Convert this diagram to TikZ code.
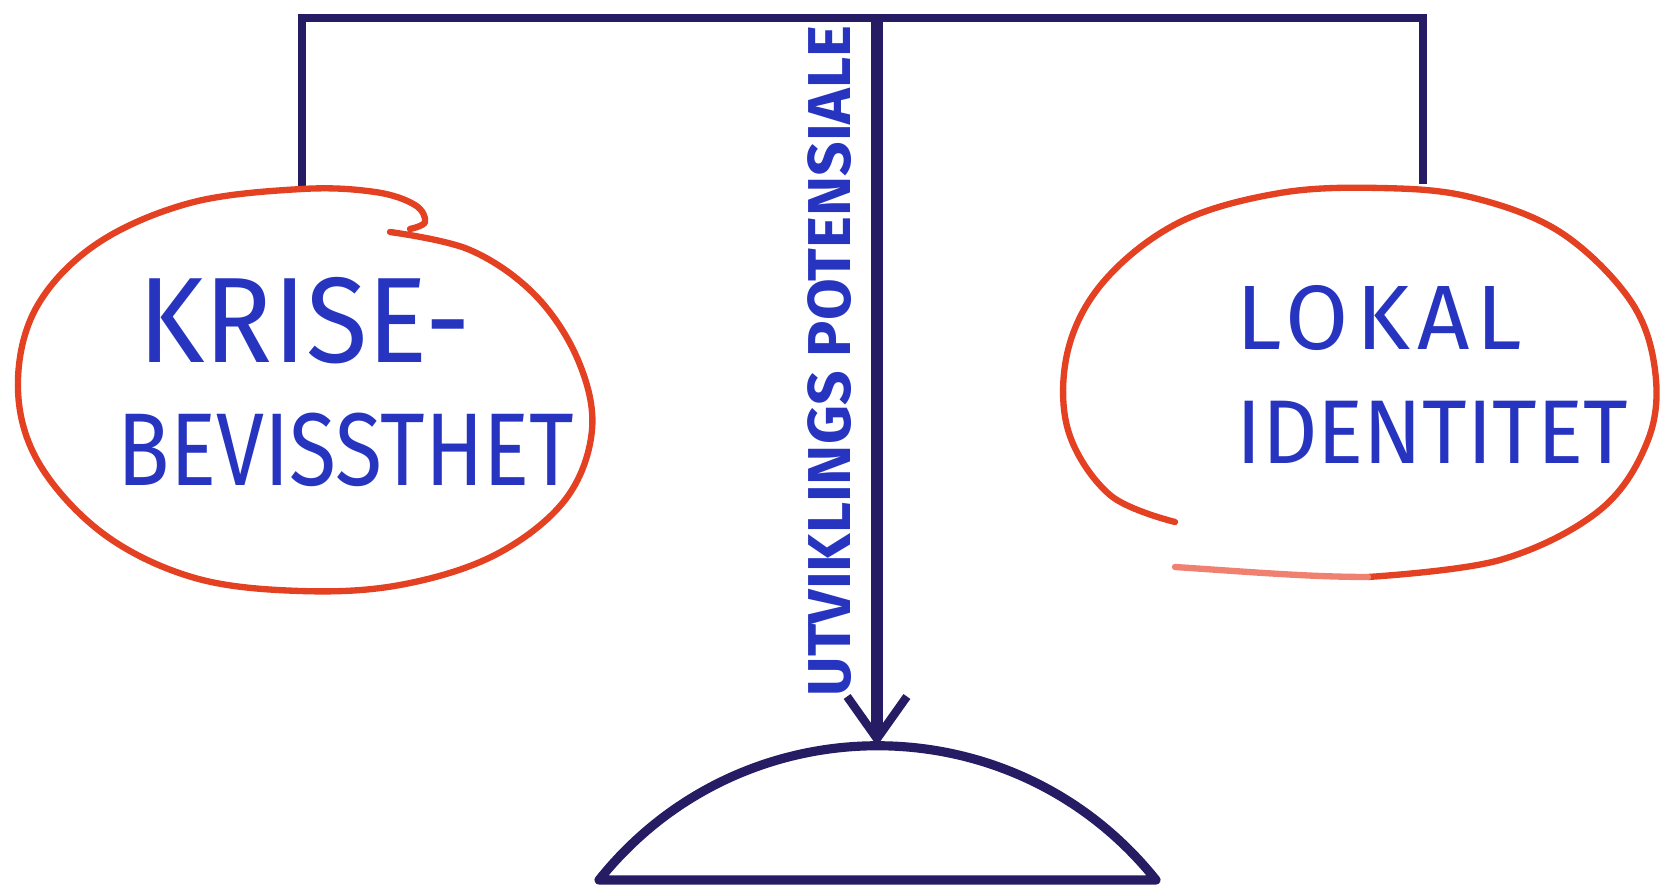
\documentclass[tikz,border=0pt]{standalone}
\usepackage{fontspec}
\setmainfont{Fira Sans}
\usetikzlibrary{arrows.meta}
\definecolor{beamnavy}{RGB}{38, 28, 100}
\definecolor{ringred}{RGB}{228, 64, 34}
\definecolor{ringpink}{RGB}{240, 128, 112}
\definecolor{inkblue}{RGB}{38, 52, 192}

\newcommand{\tallword}[2][1.2]{\scalebox{1}[#1]{#2}}

\begin{document}
\begin{tikzpicture}[x=0.01cm, y=-0.01cm,
    beam/.style={draw=beamnavy, line width=2pt, line join=miter},
    mast/.style={draw=beamnavy, line width=3.4pt,
                 -{Straight Barb[length=12pt, width=17pt, line width=2.4pt]}},
    ring/.style={draw=ringred, line width=1.8pt, line cap=round},
    pan/.style={draw=beamnavy, line width=2.6pt, line join=round},
    word/.style={text=inkblue, inner sep=0pt, anchor=west},
]

\useasboundingbox (0,0) rectangle (1663,886);

% ================================================================
% BEAM: top bar and the two hangers
% ================================================================
\coordinate (barL) at (302,18);
\coordinate (barR) at (1423,18);
\coordinate (barM) at (877,18);
\coordinate (kriseTop) at (302,189);
\coordinate (lokalTop) at (1423,184);

\draw[beam] (kriseTop) -- (barL) -- (barR) -- (lokalTop);

% ================================================================
% LEFT RING
% ================================================================
\draw[ring] plot[smooth, tension=0.6] coordinates {
  (390,232) (470,250) (535,295) (578,360) (592,430) (565,500)
  (495,555) (400,585) (300,591) (195,578) (105,535) (40,465)
  (18,390) (35,310) (95,245) (190,203) (302,189) (375,192)
  (415,205) (425,222) (410,229)};

\node[word, font=\fontsize{32}{36}\selectfont] (krise) at (138,321) {\tallword[1.08]{KRISE-}};
\node[word, font=\fontsize{24.5}{28}\selectfont] (bevissthet) at (117,450) {\tallword{BEVISSTHET}};

% ================================================================
% RIGHT RING (open at lower left)
% ================================================================
\draw[ring] plot[smooth, tension=0.6] coordinates {
  (1368,577) (1500,560) (1600,510) (1648,440) (1655,370) (1630,300)
  (1560,232) (1470,197) (1380,188) (1280,193) (1180,222) (1105,280)
  (1068,350) (1068,430) (1110,495) (1175,522)};
\draw[ring, draw=ringpink] (1175,567) .. controls (1250,572) and (1310,577) .. (1368,577);

\node[word, font=\fontsize{26}{30}\selectfont\addfontfeature{LetterSpace=8}] (lokal) at (1236,318) {LOKAL};
\node[word, font=\fontsize{24.5}{29}\selectfont] (identitet) at (1236,432) {\tallword[1.05]{IDENTITET}};

% ================================================================
% CENTRE POST with its label
% ================================================================
\coordinate (panTop) at (877,746);
\draw[mast] (barM) -- (panTop);

\node[text=inkblue, inner sep=0pt, rotate=90, font=\fontsize{17.2}{20}\selectfont\bfseries]
  (potensiale) at (830,361) {UTVIKLINGS POTENSIALE};

% ================================================================
% SCALE PAN (circular cap on a flat base)
% ================================================================
\draw[pan] (599,880) .. controls (742,701) and (1013,701) .. (1156,880) -- cycle;

\end{tikzpicture}
\end{document}
